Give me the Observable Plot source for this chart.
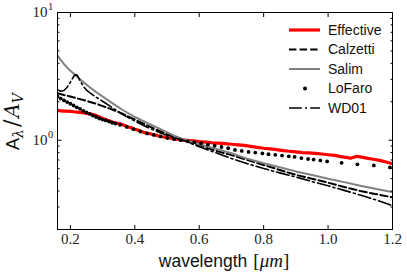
<!DOCTYPE html>
<html><head><meta charset="utf-8">
<script src="https://cdn.jsdelivr.net/npm/d3@7"></script>
<script src="https://cdn.jsdelivr.net/npm/@observablehq/plot@0.6"></script>
<style>body{margin:0;background:#fff;}</style>
</head><body><div id="chart"></div>
<script>
// ---- data ----
const effWave = [0.16,0.17,0.18,0.19,0.20,0.21,0.22,0.23,0.24,0.25,0.26,0.27,0.28,0.29,0.30,0.31,0.32,0.33,0.34,0.35,0.36,0.37,0.38,0.39,0.40,0.41,0.42,0.43,0.44,0.45,0.46,0.47,0.48,0.49,0.50,0.52,0.54,0.56,0.58,0.60,0.62,0.64,0.66,0.68,0.70,0.72,0.74,0.76,0.78,0.80,0.82,0.84,0.86,0.88,0.90,0.92,0.94,0.96,0.98,1.00,1.02,1.04,1.06,1.07,1.08,1.09,1.10,1.12,1.14,1.16,1.18,1.20];
const effVal  = [1.71,1.70,1.69,1.69,1.68,1.67,1.66,1.65,1.64,1.62,1.61,1.59,1.56,1.52,1.48,1.45,1.42,1.39,1.37,1.35,1.33,1.30,1.27,1.25,1.22,1.20,1.17,1.15,1.13,1.12,1.10,1.09,1.07,1.06,1.05,1.03,1.01,1.00,0.99,0.975,0.965,0.955,0.948,0.94,0.93,0.92,0.91,0.895,0.88,0.865,0.855,0.845,0.83,0.82,0.81,0.80,0.795,0.79,0.78,0.77,0.76,0.745,0.73,0.722,0.735,0.748,0.74,0.725,0.71,0.695,0.675,0.655];

const calWave = [0.16,0.18,0.20,0.22,0.25,0.28,0.30,0.33,0.36,0.40,0.44,0.48,0.52,0.55,0.60,0.65,0.70,0.75,0.80,0.85,0.90,0.95,1.00,1.05,1.10,1.15,1.20];
const calVal  = [2.33,2.26,2.20,2.13,2.03,1.93,1.85,1.74,1.62,1.45,1.30,1.17,1.06,1.00,0.91,0.83,0.765,0.70,0.64,0.585,0.535,0.50,0.465,0.43,0.40,0.378,0.357];

const salWave = [0.16,0.17,0.18,0.19,0.20,0.22,0.24,0.26,0.28,0.30,0.33,0.36,0.40,0.44,0.48,0.52,0.55,0.60,0.65,0.70,0.75,0.80,0.85,0.90,0.95,1.00,1.05,1.10,1.15,1.20];
const salVal  = [4.6,4.25,3.95,3.7,3.5,3.15,2.85,2.6,2.38,2.2,1.95,1.74,1.52,1.36,1.22,1.09,1.02,0.93,0.86,0.79,0.715,0.66,0.615,0.57,0.535,0.50,0.47,0.44,0.415,0.392];

const loWave = [0.16,0.17,0.18,0.19,0.20,0.21,0.22,0.23,0.24,0.25,0.26,0.27,0.28,0.29,0.30,0.31,0.32,0.33,0.34,0.354,0.375,0.396,0.417,0.438,0.459,0.48,0.501,0.522,0.543,0.564,0.585,0.606,0.627,0.648,0.669,0.69,0.711,0.732,0.753,0.774,0.796,0.815,0.836,0.857,0.878,0.896,0.917,0.938,0.955,0.976,0.997,1.042,1.091,1.142,1.192];
const loVal  = [2.20,2.12,2.05,1.99,1.93,1.87,1.81,1.76,1.70,1.65,1.61,1.56,1.52,1.48,1.45,1.43,1.40,1.37,1.35,1.32,1.27,1.22,1.17,1.13,1.10,1.07,1.04,1.02,1.00,0.98,0.965,0.945,0.925,0.905,0.885,0.865,0.84,0.825,0.81,0.80,0.788,0.778,0.768,0.758,0.748,0.74,0.725,0.713,0.705,0.695,0.682,0.665,0.648,0.635,0.612];

const wdWave = [0.16,0.17,0.18,0.19,0.20,0.205,0.21,0.215,0.22,0.225,0.23,0.24,0.25,0.26,0.28,0.30,0.33,0.36,0.40,0.44,0.48,0.52,0.55,0.60,0.65,0.70,0.75,0.80,0.85,0.90,0.95,1.00,1.05,1.10,1.15,1.20];
const wdVal  = [2.48,2.42,2.45,2.6,2.85,3.0,3.15,3.26,3.25,3.1,2.92,2.65,2.47,2.36,2.17,2.02,1.80,1.60,1.41,1.26,1.14,1.05,1.0,0.89,0.80,0.72,0.655,0.60,0.555,0.515,0.475,0.44,0.405,0.372,0.34,0.307];

const xTicks = [0.2,0.4,0.6,0.8,1.0,1.2];
const yMajor = [1,10];
const yMinor = [0.2,0.3,0.4,0.5,0.6,0.7,0.8,0.9,2,3,4,5,6,7,8,9];
const legendLabels = ["Effective","Calzetti","Salim","LoFaro","WD01"];

const rows = (w, v) => w.map((x, i) => ({x, y: v[i]}));
const serif = "Liberation Serif";
const sans = "Liberation Sans";

const plot = Plot.plot({
  width: 407, height: 278,
  marginLeft: 57, marginRight: 15, marginTop: 12, marginBottom: 49,
  style: {background: "white", overflow: "visible"},
  x: {domain: [0.16, 1.2], label: null},
  y: {type: "log", domain: [0.2, 10], label: null},
  marks: [
    Plot.line(rows(effWave, effVal), {x: "x", y: "y", stroke: "#ff0000", strokeWidth: 3.2, clip: true}),
    Plot.line(rows(calWave, calVal), {x: "x", y: "y", stroke: "black", strokeWidth: 2, strokeDasharray: "7.4,3.2", clip: true}),
    Plot.line(rows(salWave, salVal), {x: "x", y: "y", stroke: "#808080", strokeWidth: 2, clip: true}),
    Plot.dot(rows(loWave, loVal), {x: "x", y: "y", fill: "black", r: 1.9, clip: true}),
    Plot.line(rows(wdWave, wdVal), {x: "x", y: "y", stroke: "black", strokeWidth: 1.6, strokeDasharray: "12.8,3.2,2,3.2", clip: true}),
    Plot.frame({stroke: "black", strokeWidth: 1}),
    // inward ticks
    Plot.axisX({anchor: "bottom", ticks: xTicks, tickSize: -4, text: null, label: null}),
    Plot.axisX({anchor: "top", ticks: xTicks, tickSize: -4, text: null, label: null}),
    Plot.axisY({anchor: "left", ticks: yMajor, tickSize: -4.5, text: null, label: null}),
    Plot.axisY({anchor: "right", ticks: yMajor, tickSize: -4.5, text: null, label: null}),
    Plot.axisY({anchor: "left", ticks: yMinor, tickSize: -2.5, text: null, label: null}),
    Plot.axisY({anchor: "right", ticks: yMinor, tickSize: -2.5, text: null, label: null}),
    // tick labels
    Plot.axisX({anchor: "bottom", ticks: xTicks, tickSize: 0, tickPadding: 4, tickFormat: d3.format(".1f"), fontFamily: serif, fontSize: 15, label: null, fill: "#222"}),
    Plot.text(yMajor, {y: d => d, frameAnchor: "left", text: () => "10", textAnchor: "end", dx: -10, fontFamily: serif, fontSize: 15, fill: "#222"}),
    Plot.text(yMajor, {y: d => d, frameAnchor: "left", text: d => String(Math.round(Math.log10(d))), textAnchor: "start", dx: -9.5, dy: -6, fontFamily: serif, fontSize: 10.5, fill: "#222"})
  ]
});

const svg = d3.select(plot);
// x label
const xl = svg.append("text").attr("x", 224).attr("y", 267).style("text-anchor", "middle").attr("fill", "#111");
xl.append("tspan").style("font-family", sans).style("font-size", "17.5px").text("wavelength");
xl.append("tspan").style("font-family", serif).style("font-size", "19px").attr("dx", 6).text("[");
xl.append("tspan").style("font-family", serif).style("font-style", "italic").style("font-size", "19px").text("μm");
xl.append("tspan").style("font-family", serif).style("font-size", "19px").text("]");
// y label (rotated, starting at the bottom)
const yl = svg.append("text").attr("transform", "translate(19,150) rotate(-90)").style("text-anchor", "start").attr("fill", "#111");
yl.append("tspan").style("font-family", sans).style("font-size", "18px").text("A");
yl.append("tspan").style("font-family", "DejaVu Serif").style("font-style", "italic").style("font-size", "14px").attr("dy", 4).text("λ");
yl.append("tspan").style("font-family", "DejaVu Serif").style("font-size", "22px").attr("dy", -4).attr("dx", 2).text("/");
yl.append("tspan").style("font-family", "DejaVu Serif").style("font-style", "italic").style("font-size", "20px").attr("dx", 2).text("A");
yl.append("tspan").style("font-family", "DejaVu Serif").style("font-style", "italic").style("font-size", "14px").attr("dy", 4).text("V");

// legend
const styles = [
  {stroke: "#ff0000", w: 3.2, dash: null},
  {stroke: "black", w: 2, dash: "7.4,3.2"},
  {stroke: "#808080", w: 2, dash: null},
  {dot: true},
  {stroke: "black", w: 1.6, dash: "12.8,3.2,2,3.2"}
];
const lg = svg.append("g");
legendLabels.forEach((lab, i) => {
  const y = 30 + i * 19.5;
  const s = styles[i];
  if (s.dot) {
    lg.append("circle").attr("cx", 305).attr("cy", y).attr("r", 2).attr("fill", "black");
  } else {
    const ln = lg.append("line").attr("x1", 289).attr("x2", 320).attr("y1", y).attr("y2", y)
      .attr("stroke", s.stroke).attr("stroke-width", s.w);
    if (s.dash) ln.attr("stroke-dasharray", s.dash);
  }
  lg.append("text").attr("x", 328).attr("y", y).attr("dy", "0.35em")
    .style("text-anchor", "start").style("font-family", sans).style("font-size", "14px")
    .attr("fill", "#111").text(lab);
});

document.getElementById("chart").append(plot);
</script>
</body></html>
